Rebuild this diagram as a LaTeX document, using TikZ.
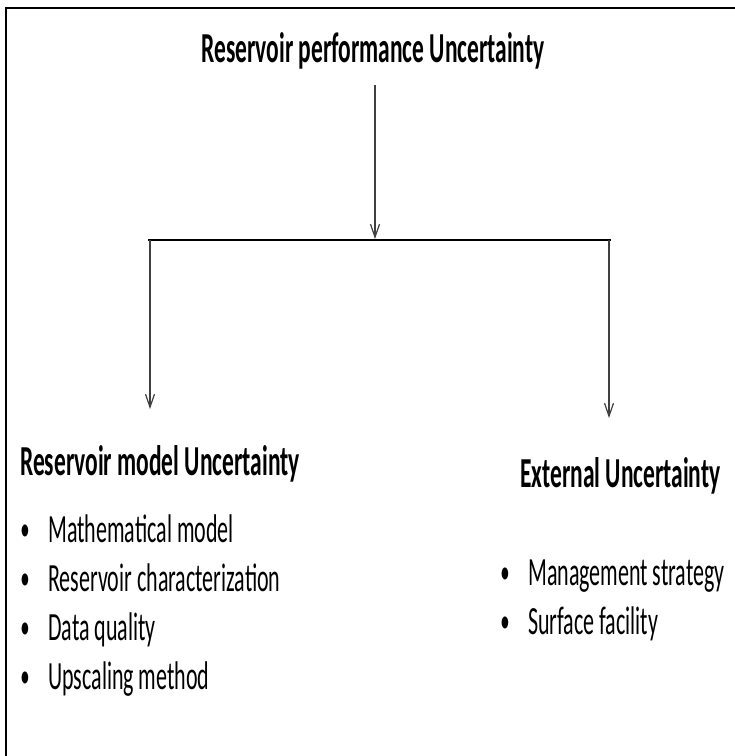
\documentclass[tikz,border=0pt]{standalone}
\usepackage{fontspec}
\setmainfont{Carlito}[FakeStretch=0.55]
\usetikzlibrary{arrows.meta}
\begin{document}
\begin{tikzpicture}[x=1pt,y=1pt,
  hdfont/.style={font=\fontsize{42.7}{46}\selectfont\bfseries},
  itfont/.style={font=\fontsize{40}{44}\selectfont},
  ttl/.style={hdfont, inner sep=0pt, anchor=base},
  hd/.style={hdfont, inner sep=0pt, anchor=base west},
  itm/.style={itfont, inner sep=0pt, anchor=base west},
  bul/.style={font=\fontsize{34}{38}\selectfont, inner sep=0pt, anchor=base},
  arr/.style={draw=black!75, line width=1.2pt, -{Straight Barb[length=13pt,width=9pt,line width=1.2pt]}},
  barline/.style={draw=black, line width=2pt},
  frameline/.style={draw=black, line width=2.5pt}
]
\useasboundingbox (0,0) rectangle (735,-756);
\draw[frameline] (735,-8) -- (6,-8) -- (6,-756);

\node[ttl] (title) at (373,-62) {Reservoir performance Uncertainty};

\coordinate (topStart) at (375,-85);
\coordinate (barM) at (375,-239);
\coordinate (barL) at (148,-240);
\coordinate (barR) at (611,-240);
\coordinate (lTop) at (150,-240);
\coordinate (lEnd) at (150,-409);
\coordinate (rTop) at (609,-240);
\coordinate (rEnd) at (609,-418);

\draw[arr] (topStart) -- (barM);
\draw[barline] (barL) -- (barR);
\draw[arr] (lTop) -- (lEnd);
\draw[arr] (rTop) -- (rEnd);

\node[hd] (lhead) at (20,-475) {Reservoir model Uncertainty};
\node[hd] (rhead) at (520,-487) {External Uncertainty};

\node[bul] (lb1) at (25,-540) {•};
\node[itm] (li1) at (48,-542) {Mathematical model};
\node[bul] (lb2) at (25,-589) {•};
\node[itm] (li2) at (48,-591) {Reservoir characterization};
\node[bul] (lb3) at (25,-638) {•};
\node[itm] (li3) at (48,-640) {Data quality};
\node[bul] (lb4) at (25,-687) {•};
\node[itm] (li4) at (48,-689) {Upscaling method};

\node[bul] (rb1) at (505,-583) {•};
\node[itm] (ri1) at (528,-585) {Management strategy};
\node[bul] (rb2) at (505,-632) {•};
\node[itm] (ri2) at (528,-634) {Surface facility};
\end{tikzpicture}
\end{document}
